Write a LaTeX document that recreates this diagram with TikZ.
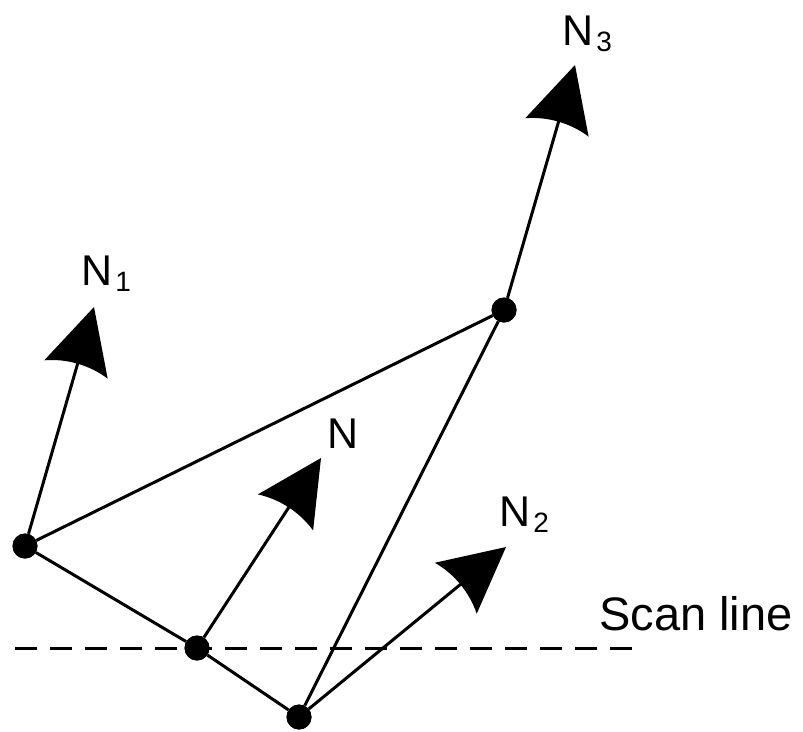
\documentclass[tikz,border=0pt]{standalone}
\usepackage{fontspec}
\setmainfont{Liberation Sans}
\usetikzlibrary{arrows.meta}
\pgfdeclarearrow{
  name = Barb,
  setup code = {
    \pgfarrowssettipend{0pt}
    \pgfarrowssetlineend{-40pt}
    \pgfarrowssetbackend{-65pt}
    \pgfarrowshullpoint{0pt}{0pt}
    \pgfarrowsupperhullpoint{-65pt}{33pt}
  },
  drawing code = {
    \pgfpathmoveto{\pgfqpoint{0pt}{0pt}}
    \pgfpathlineto{\pgfqpoint{-65pt}{33pt}}
    \pgfpathcurveto{\pgfqpoint{-57pt}{12pt}}{\pgfqpoint{-57pt}{-12pt}}{\pgfqpoint{-65pt}{-33pt}}
    \pgfpathclose
    \pgfusepathqfill
  }
}
\newcommand{\lbl}[2]{N\kern3pt\raisebox{-6pt}{\fontsize{28}{28}\selectfont #2}}
\begin{document}
\begin{tikzpicture}[x=1pt,y=-1pt,
  vtx/.style={circle,fill=black,inner sep=0pt,minimum size=25pt},
  edge/.style={line width=3pt},
  normal/.style={line width=3pt,-{Barb}},
  lab/.style={anchor=base west,inner sep=0pt,font=\fontsize{43}{43}\selectfont}]
\useasboundingbox (0,0) rectangle (803,731);
\node[vtx] (A) at (25,546) {};
\node[vtx] (B) at (504,310) {};
\node[vtx] (C) at (197,648) {};
\node[vtx] (D) at (299,717) {};
\coordinate (t1) at (94,307);
\coordinate (t3) at (575,65);
\coordinate (tn) at (321,458);
\coordinate (t2) at (506,547);
\coordinate (s1) at (15,648);
\coordinate (s2) at (632,648);
\draw[line width=3pt,dash pattern=on 22pt off 13pt] (s1) -- (s2);
\draw[edge] (A) -- (B);
\draw[edge] (A) -- (C);
\draw[edge] (C) -- (D);
\draw[edge] (D) -- (B);
\draw[normal] (A) -- (t1);
\draw[normal] (B) -- (t3);
\draw[normal] (C) -- (tn);
\draw[normal] (D) -- (t2);
\node[vtx] at (A) {};
\node[vtx] at (B) {};
\node[vtx] at (C) {};
\node[vtx] at (D) {};
\node[lab] (l1) at (81,285) {\lbl{N}{1}};
\node[lab] (l3) at (562,45) {\lbl{N}{3}};
\node[lab] (ln) at (327,448) {N};
\node[lab] (l2) at (499,526) {\lbl{N}{2}};
\node[lab,font=\fontsize{47}{47}\selectfont] (ls) at (599,630) {Scan line};
\end{tikzpicture}
\end{document}
